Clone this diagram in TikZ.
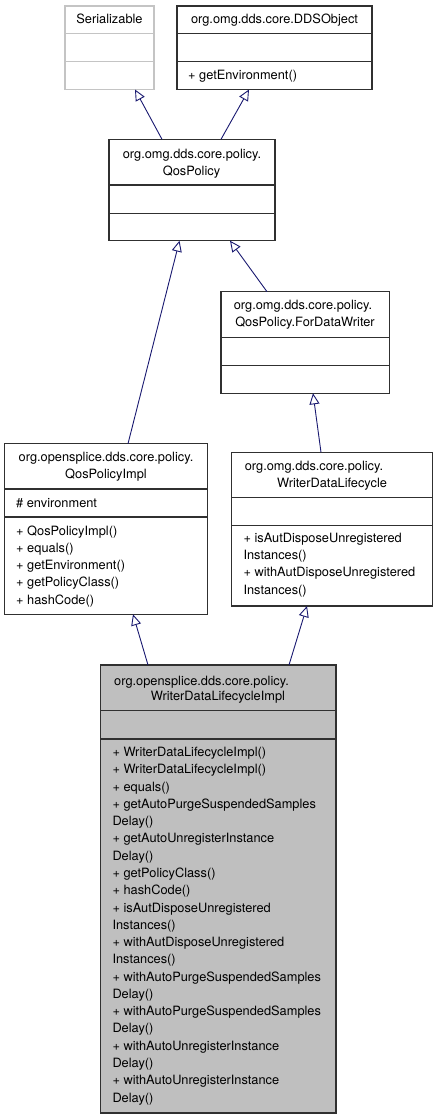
\documentclass[tikz,border=0pt]{standalone}
\usepackage{fontspec}
\setmainfont{TeX Gyre Heros}
\usetikzlibrary{arrows.meta,calc}
\definecolor{edgeblue}{HTML}{191970}
\definecolor{greyfill}{HTML}{BFBFBF}
\definecolor{greyline}{HTML}{C4C4C4}
\definecolor{boxline}{HTML}{303030}
\begin{document}
\begin{tikzpicture}[x=1pt,y=-1pt,
  box/.style={draw=boxline, line width=1.1pt, inner sep=0pt, outer sep=0pt, anchor=north west},
  gbox/.style={box, draw=greyline},
  divl/.style={draw=boxline, line width=1.1pt},
  gdivl/.style={draw=greyline, line width=1.1pt},
  txt/.style={font=\fontsize{12.8}{15}\selectfont, anchor=base, inner sep=0pt},
  ltxt/.style={txt, anchor=base west},
  inh/.style={draw=edgeblue, line width=0.9pt, -{Triangle[open, length=11pt, width=10pt, fill=white]}}]
\useasboundingbox (0,0) rectangle (437,1120);

% Serializable
\node[gbox, minimum width=89pt, minimum height=83.5pt] (ser) at (65,6) {};
\draw[gdivl] ($(ser.north west)+(0,27.3)$) -- ($(ser.north east)+(0,27.3)$);
\draw[gdivl] ($(ser.north west)+(0,55.7)$) -- ($(ser.north east)+(0,55.7)$);
\node[txt] (sert) at (109.5,23) {Serializable};

% DDSObject
\node[box, minimum width=195pt, minimum height=83.5pt] (dds) at (177,6) {};
\draw[divl] ($(dds.north west)+(0,27.3)$) -- ($(dds.north east)+(0,27.3)$);
\draw[divl] ($(dds.north west)+(0,55.7)$) -- ($(dds.north east)+(0,55.7)$);
\node[txt] (ddst) at (274.5,23) {org.omg.dds.core.DDSObject};
\node[ltxt] (ddsm) at (188,79) {+ getEnvironment()};

% QosPolicy
\node[box, minimum width=166pt, minimum height=101.4pt] (qp) at (109,139.3) {};
\draw[divl] ($(qp.north west)+(0,45.7)$) -- ($(qp.north east)+(0,45.7)$);
\draw[divl] ($(qp.north west)+(0,74)$) -- ($(qp.north east)+(0,74)$);
\node[txt] (qpt1) at (192,158.5) {org.omg.dds.core.policy.};
\node[txt] (qpt2) at (191.5,175) {QosPolicy};

% ForDataWriter
\node[box, minimum width=168.3pt, minimum height=101.6pt] (fdw) at (221,291.7) {};
\draw[divl] ($(fdw.north west)+(0,45.6)$) -- ($(fdw.north east)+(0,45.6)$);
\draw[divl] ($(fdw.north west)+(0,73.6)$) -- ($(fdw.north east)+(0,73.6)$);
\node[txt] (fdwt1) at (303,309) {org.omg.dds.core.policy.};
\node[txt] (fdwt2) at (305,326) {QosPolicy.ForDataWriter};

% QosPolicyImpl
\node[box, minimum width=203pt, minimum height=170.6pt] (qpi) at (4.7,443.7) {};
\draw[divl] ($(qpi.north west)+(0,45.3)$) -- ($(qpi.north east)+(0,45.3)$);
\draw[divl] ($(qpi.north west)+(0,73.3)$) -- ($(qpi.north east)+(0,73.3)$);
\node[txt] (qpit1) at (106,461) {org.opensplice.dds.core.policy.};
\node[txt] (qpit2) at (106,478) {QosPolicyImpl};
\node[ltxt] (qpia) at (16,507) {\# environment};
\foreach \t [count=\i from 0] in {+ QosPolicyImpl(), + equals(), + getEnvironment(), + getPolicyClass(), + hashCode()}
  \node[ltxt] (qpim\i) at (16,{535+17.3*\i}) {\t};

% WriterDataLifecycle
\node[box, minimum width=200.6pt, minimum height=153.7pt] (wdl) at (231.7,452.3) {};
\draw[divl] ($(wdl.north west)+(0,45.4)$) -- ($(wdl.north east)+(0,45.4)$);
\draw[divl] ($(wdl.north west)+(0,73.4)$) -- ($(wdl.north east)+(0,73.4)$);
\node[txt] (wdlt1) at (314,470) {org.omg.dds.core.policy.};
\node[txt] (wdlt2) at (332,487) {WriterDataLifecycle};
\foreach \t [count=\i from 0] in {+ isAutDisposeUnregistered, Instances(), + withAutDisposeUnregistered, Instances()}
  \node[ltxt] (wdlm\i) at (243.3,{542.5+17.2*\i}) {\t};

% WriterDataLifecycleImpl
\node[box, fill=greyfill, minimum width=235.3pt, minimum height=448pt] (impl) at (100.7,665) {};
\draw[divl] ($(impl.north west)+(0,45.7)$) -- ($(impl.north east)+(0,45.7)$);
\draw[divl] ($(impl.north west)+(0,74)$) -- ($(impl.north east)+(0,74)$);
\node[txt] (implt1) at (201.5,685) {org.opensplice.dds.core.policy.};
\node[txt] (implt2) at (218,700.5) {WriterDataLifecycleImpl};
\foreach \t [count=\i from 0] in {+ WriterDataLifecycleImpl(), + WriterDataLifecycleImpl(), + equals(),
  + getAutoPurgeSuspendedSamples, Delay(), + getAutoUnregisterInstance, Delay(), + getPolicyClass(),
  + hashCode(), + isAutDisposeUnregistered, Instances(), + withAutDisposeUnregistered, Instances(),
  + withAutoPurgeSuspendedSamples, Delay(), + withAutoPurgeSuspendedSamples, Delay(),
  + withAutoUnregisterInstance, Delay(), + withAutoUnregisterInstance, Delay()}
  \node[ltxt] (implm\i) at (112.3,{756.5+17.28*\i}) {\t};

% inheritance connectors
\draw[inh] ([xshift=53pt]qp.north west) -- ([xshift=70pt]ser.south west);
\draw[inh] ([xshift=112pt]qp.north west) -- ([xshift=72pt]dds.south west);
\draw[inh] ([xshift=123.3pt]qpi.north west) -- ([xshift=70.5pt]qp.south west);
\draw[inh] ([xshift=46pt]fdw.north west) -- ([xshift=121pt]qp.south west);
\draw[inh] ([xshift=89.3pt]wdl.north west) -- ([xshift=92pt]fdw.south west);
\draw[inh] ([xshift=47.3pt]impl.north west) -- ([xshift=128.3pt]qpi.south west);
\draw[inh] ([xshift=188.3pt]impl.north west) -- ([xshift=75.3pt]wdl.south west);
\end{tikzpicture}
\end{document}
